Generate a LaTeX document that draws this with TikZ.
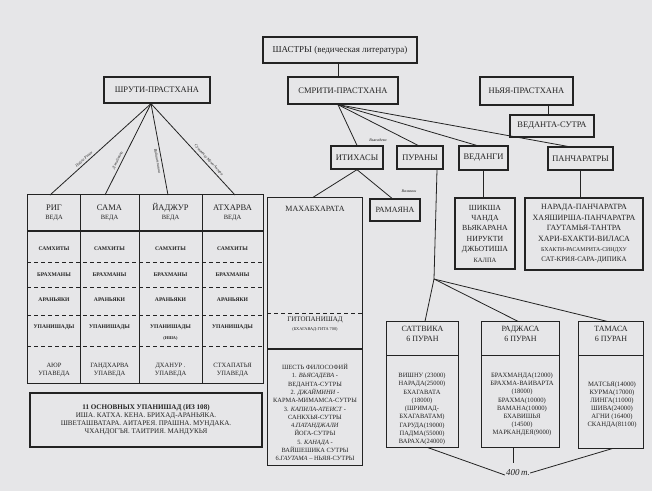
\documentclass[tikz,border=0pt]{standalone}
\usepackage{fontspec}
\setmainfont{Liberation Serif}
\newcommand{\myfs}[2]{\fontsize{#1}{#2}\selectfont}
\definecolor{ink}{RGB}{35,35,35}
\definecolor{paper}{RGB}{230,230,232}
\begin{document}
\begin{tikzpicture}[x=1pt,y=-1pt,
  box/.style={draw=ink, line width=1.3pt, inner sep=1pt, align=center, text=ink, font=\myfs{8.5}{10}},
  plain/.style={inner sep=0pt, align=center, text=ink},
  conn/.style={draw=ink, line width=0.8pt},
  dsh/.style={draw=ink, line width=0.9pt, dash pattern=on 4pt off 3pt},
  sol/.style={draw=ink, line width=1pt},
  hand/.style={inner sep=0.5pt, text=ink, font=\myfs{4}{4}\itshape},
  hdr/.style={plain, font=\myfs{8.5}{9}},
  hdrs/.style={plain, font=\myfs{6.5}{7}},
  cell/.style={plain, font=\myfs{5.6}{6}\bfseries},
  upv/.style={plain, font=\myfs{6.5}{8}},
  lst/.style={plain, font=\myfs{6.5}{8.25}},
]
\fill[paper] (0,0) rectangle (652,491);
\useasboundingbox (0,0) rectangle (652,491);

% top level
\node[box, font=\myfs{9}{10}, minimum width=154pt, minimum height=26pt] (shastra) at (340,50) {ШАСТРЫ (ведическая литература)};
\node[box, minimum width=110pt, minimum height=27pt] (smriti) at (343,90.5) {СМРИТИ-ПРАСТХАНА};
\node[box, minimum width=106pt, minimum height=26pt] (shruti) at (157,90) {ШРУТИ-ПРАСТХАНА};
\node[box, minimum width=93pt, minimum height=28pt] (nyaya) at (526.5,91) {НЬЯЯ-ПРАСТХАНА};
\node[box, minimum width=84pt, minimum height=22pt] (vsutra) at (552,126) {ВЕДАНТА-СУТРА};

\draw[conn] ([xshift=-2pt]shastra.south) -- ([xshift=-5pt]smriti.north);
\draw[conn] ([xshift=21.5pt]nyaya.south) -- ([xshift=-4pt]vsutra.north);

% smriti children
\node[box, minimum width=52pt, minimum height=23pt] (itihasa) at (357,157.5) {ИТИХАСЫ};
\node[box, minimum width=46pt, minimum height=23pt] (purana) at (420,157.5) {ПУРАНЫ};
\node[box, minimum width=49pt, minimum height=24pt] (vedanga) at (483.5,158) {ВЕДАНГИ};
\node[box, minimum width=65pt, minimum height=23pt] (panch) at (580.5,158.5) {ПАНЧАРАТРЫ};

\draw[conn] ([xshift=-5pt]smriti.south) -- (itihasa.north);
\draw[conn] ([xshift=-5pt]smriti.south) -- ([xshift=-2pt]purana.north);
\draw[conn] ([xshift=-5pt]smriti.south) -- ([xshift=-7pt]vedanga.north);
\draw[conn] ([xshift=-5pt]smriti.south) -- ([xshift=-13pt]panch.north);
\node[hand] (vyasa) at (378,140) {Вьясадева};

% itihasa children
\node[box, draw=none, minimum width=94pt, minimum height=267pt] (maha) at (315,331.5) {};
\draw[ink, line width=1.3pt] (maha.north west) rectangle (maha.south east);
\node[box, font=\myfs{8}{9}, minimum width=50pt, minimum height=22pt] (ramayana) at (395,210) {РАМАЯНА};
\draw[conn] (itihasa.south) -- ([xshift=-2pt]maha.north);
\draw[conn] (itihasa.south) -- ([xshift=-3pt]ramayana.north);
\node[hand] (valmiki) at (409,191) {Валмики};

\node[plain, font=\myfs{8}{9}] (mahat) at (315,208.5) {МАХАБХАРАТА};
\draw[dsh] (maha.west |- 0,313) -- (maha.east |- 0,313);
\node[plain, font=\myfs{7}{8}] (gita) at (315,320) {ГИТОПАНИШАД};
\node[plain, font=\myfs{4.3}{5}] (gita2) at (315,329) {(БХАГАВАД-ГИТА 700)};
\draw[sol, line width=1.1pt] (maha.west |- 0,349) -- (maha.east |- 0,349);
\node[plain, font=\myfs{6.4}{8.27}] (phil) at (315,412.5) {ШЕСТЬ ФИЛОСОФИЙ\\
1. \textit{ВЬЯСАДЕВА} -\\
ВЕДАНТА-СУТРЫ\\
2. \textit{ДЖАЙМИНИ} -\\
КАРМА-МИМАМСА-СУТРЫ\\
3. \textit{КАПИЛА-АТЕИСТ} -\\
САНКХЬЯ-СУТРЫ\\
4.\textit{ПАТАНДЖАЛИ}\\
ЙОГА-СУТРЫ\\
5. \textit{КАНАДА} -\\
ВАЙШЕШИКА СУТРЫ\\
6.\textit{ГАУТАМА} – НЬЯЯ-СУТРЫ};

% vedanga / pancharatra lists
\node[box, font=\myfs{7.8}{10.4}, minimum width=60pt, minimum height=71pt] (shiksha) at (485,233.5) {ШИКША\\ЧАНДА\\ВЬЯКАРАНА\\НИРУКТИ\\ДЖЬОТИША\\{\myfs{6.5}{7}КАЛПА}};
\node[box, font=\myfs{8}{10.4}, minimum width=118pt, minimum height=72pt, inner sep=0pt] (narada) at (584,234) {НАРАДА-ПАНЧАРАТРА\\ХАЯШИРША-ПАНЧАРАТРА\\ГАУТАМЬЯ-ТАНТРА\\ХАРИ-БХАКТИ-ВИЛАСА\\{\myfs{5.8}{6}БХАКТИ-РАСАМРИТА-СИНДХУ}\\{\myfs{7}{8}САТ-КРИЯ-САРА-ДИПИКА}};
\draw[conn] (vedanga.south) -- (vedanga.south |- shiksha.north);
\draw[conn] (panch.south) -- (panch.south |- narada.north);

% purana branches
\coordinate (pb) at (434,279);
\node[box, draw=none, minimum width=71pt, minimum height=125pt] (sattva) at (422.5,384.5) {};
\node[box, draw=none, minimum width=77pt, minimum height=125pt] (raj) at (520.5,384.5) {};
\node[box, draw=none, minimum width=64pt, minimum height=126pt] (tam) at (611,385) {};
\foreach \n in {sattva,raj,tam}{
  \draw[ink, line width=1.3pt] (\n.north west) rectangle (\n.south east);
  \draw[sol] (\n.west |- 0,355.5) -- (\n.east |- 0,355.5);
}
\draw[conn] ([xshift=17pt]purana.south) -- (pb);
\draw[conn] (pb) -- ([xshift=2.5pt]sattva.north);
\draw[conn] (pb) -- ([xshift=-2.5pt]raj.north);
\draw[conn] (pb) -- ([xshift=-4pt]tam.north);

\node[plain, font=\myfs{8}{10}] (sattvat) at (422.5,334) {САТТВИКА\\6 ПУРАН};
\node[plain, font=\myfs{8}{10}] (rajt) at (520.5,334) {РАДЖАСА\\6 ПУРАН};
\node[plain, font=\myfs{8}{10}] (tamt) at (611,334) {ТАМАСА\\6 ПУРАН};

\node[lst] (sattval) at (422,409) {ВИШНУ (23000)\\НАРАДА(25000)\\БХАГАВАТА\\(18000)\\(ШРИМАД-\\БХАГАВАТАМ)\\ГАРУДА(19000)\\ПАДМА(55000)\\ВАРАХА(24000)};
\node[lst, font=\myfs{6.6}{8.15}] (rajl) at (522,404.5) {БРАХМАНДА(12000)\\БРАХМА-ВАИВАРТА\\(18000)\\БРАХМА(10000)\\ВАМАНА(10000)\\БХАВИШЬЯ\\(14500)\\МАРКАНДЕЯ(9000)};
\node[lst, font=\myfs{6.7}{8}] (taml) at (612,405) {МАТСЬЯ(14000)\\КУРМА(17000)\\ЛИНГА(11000)\\ШИВА(24000)\\АГНИ (16400)\\СКАНДА(81100)};

\node[plain, font=\myfs{9}{9}\itshape] (t400) at (518,473) {400\,т.};
\draw[conn] ([xshift=5.5pt]sattva.south) -- ([xshift=-1pt,yshift=-2pt]t400.west);
\draw[conn] ([xshift=-7.5pt]raj.south) -- ++(0,15);
\draw[conn] ([xshift=1pt]tam.south) -- (t400.east);

% shruti / veda table
\node[box, draw=none, minimum width=235pt, minimum height=188pt] (vedas) at (145.5,289) {};
\draw[ink, line width=1.3pt] (vedas.north west) rectangle (vedas.south east);
\foreach \x in {80,139,202}{
  \draw[sol] (\x,195) -- (\x,383);
}
\draw[sol, line width=1.2pt] (vedas.west |- 0,231) -- (vedas.east |- 0,231);
\foreach \y in {262,287,315,346}{
  \draw[dsh] (vedas.west |- 0,\y) -- (vedas.east |- 0,\y);
}
\coordinate (v1) at (50,195);
\coordinate (v2) at (105,195);
\coordinate (v3) at (168,195);
\coordinate (v4) at (235,195);
\coordinate (apex) at ([xshift=-6pt]shruti.south);
\draw[conn] (v1) -- node[hand, sloped, above=1.5pt, pos=0.36] {Пайла Риши} (apex);
\draw[conn] (v2) -- node[hand, sloped, above=1.5pt, pos=0.36] {Джаймини} (apex);
\draw[conn] (v3) -- node[hand, sloped, below=1.5pt, pos=0.38] {Вайшампаяна} (apex);
\draw[conn] (v4) -- node[hand, sloped, above=1.5pt, pos=0.35] {Сумантху Муни Ангира} (apex);

\foreach \i/\cx/\nm/\up in {1/54/РИГ/АЮР, 2/109.5/САМА/ГАНДХАРВА, 3/170.5/ЙАДЖУР/{ДХАНУР .}, 4/232.5/АТХАРВА/СТХАПАТЬЯ}{
  \node[hdr] (h\i) at (\cx,208) {\nm};
  \node[hdrs] (hv\i) at (\cx,218.5) {ВЕДА};
  \node[cell] (s\i) at (\cx,249) {САМХИТЫ};
  \node[cell] (b\i) at (\cx,274.5) {БРАХМАНЫ};
  \node[cell] (a\i) at (\cx,300) {АРАНЬЯКИ};
  \node[cell] (u\i) at (\cx,327) {УПАНИШАДЫ};
  \node[upv] (p\i) at (\cx,370) {\up\\УПАВЕДА};
}
\node[plain, font=\myfs{4.3}{5}\bfseries] (isha) at (170.5,338) {(ИША)};

\node[box, font=\myfs{7.1}{8}, line width=1.3pt, minimum width=232pt, minimum height=54pt] (upan) at (146,420) {\textbf{11 ОСНОВНЫХ УПАНИШАД (ИЗ 108)}\\ИША. КАТХА. КЕНА. БРИХАД-АРАНЬЯКА.\\ШВЕТАШВАТАРА. АИТАРЕЯ. ПРАШНА. МУНДАКА.\\ЧХАНДОГЪЯ. ТАИТРИЯ. МАНДУКЬЯ};
\end{tikzpicture}
\end{document}
